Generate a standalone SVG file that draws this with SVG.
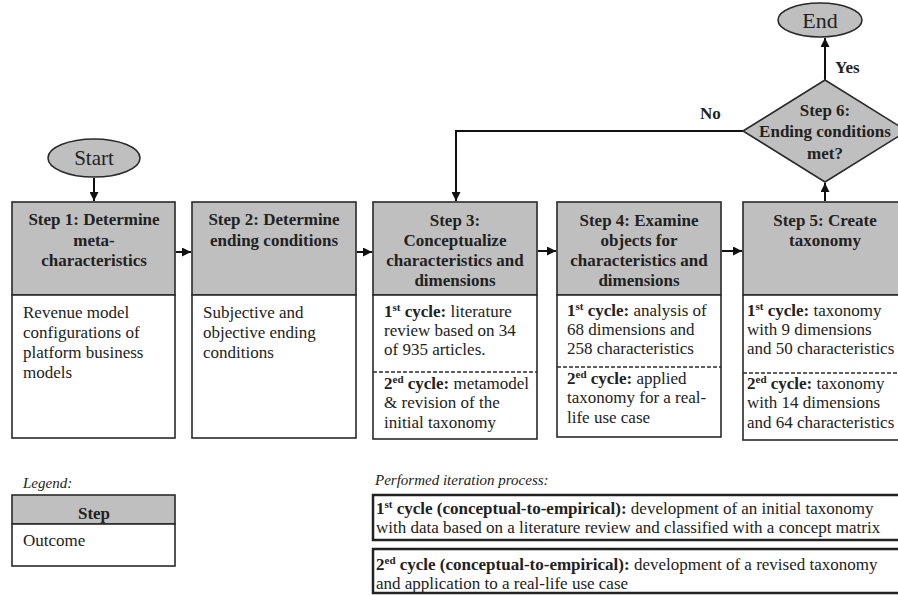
<svg xmlns="http://www.w3.org/2000/svg" width="898" height="595" viewBox="0 0 898 595" font-family="Liberation Serif, Times New Roman, DejaVu Serif, serif">
<defs>
<marker id="ah" viewBox="0 0 10 10" refX="10" refY="5" markerWidth="9" markerHeight="9" markerUnits="userSpaceOnUse" orient="auto">
<path d="M0,0 L10,5 L0,10 z" fill="#111"/>
</marker>
<style>
.hd{fill:#bfbfbf;stroke:#2a2a2a;stroke-width:1.6}
.bd{fill:#fff;stroke:#2a2a2a;stroke-width:1.6}
.dash{stroke:#2a2a2a;stroke-width:1.3;stroke-dasharray:4 2;fill:none}
.t{font-family:'Liberation Serif','Times New Roman','DejaVu Serif',serif;font-size:17px;fill:#222}
.b{font-weight:bold}
.c{text-anchor:middle}
.i{font-style:italic;font-size:15px}
.sup{font-size:11px}
.con{stroke:#111;stroke-width:2;fill:none}
.pb{fill:#fff;stroke:#222;stroke-width:2.5}
</style>
</defs>
<rect width="898" height="595" fill="#fff"/>

<g id="connectors">
<line class="con" x1="94" y1="178" x2="94" y2="201" marker-end="url(#ah)"/>
<line class="con" x1="176" y1="252" x2="191" y2="252" marker-end="url(#ah)"/>
<line class="con" x1="357" y1="252" x2="372" y2="252" marker-end="url(#ah)"/>
<line class="con" x1="538" y1="251" x2="556" y2="251" marker-end="url(#ah)"/>
<line class="con" x1="722" y1="251" x2="742" y2="251" marker-end="url(#ah)"/>
<line class="con" x1="825" y1="201" x2="825" y2="183" marker-end="url(#ah)"/>
<line class="con" x1="825" y1="80" x2="825" y2="38" marker-end="url(#ah)"/>
<path class="con" d="M743,131 H456 V201" marker-end="url(#ah)"/>
<text class="t b" x="700" y="119">No</text>
<text class="t b" x="835" y="73">Yes</text>
</g>

<g id="start">
<ellipse cx="94" cy="158" rx="46" ry="19" fill="#bfbfbf" stroke="#2a2a2a" stroke-width="1.6"/>
<text class="t c" x="94" y="165" style="font-size:21px">Start</text>
</g>

<g id="end">
<ellipse cx="820" cy="20" rx="42" ry="17" fill="#bfbfbf" stroke="#2a2a2a" stroke-width="1.6"/>
<text class="t c" x="820" y="28" style="font-size:22px">End</text>
</g>

<g id="step6">
<polygon points="743,131 825,80 907,131 825,182" fill="#bfbfbf" stroke="#2a2a2a" stroke-width="1.6"/>
<text class="t b c" x="825" y="116">Step 6:</text>
<text class="t b c" x="825" y="137">Ending conditions</text>
<text class="t b c" x="825" y="159">met?</text>
</g>

<g id="step1">
<rect class="hd" x="12" y="202" width="163" height="93"/>
<rect class="bd" x="12" y="295" width="163" height="143"/>
<text class="t b c" x="94" y="225">Step 1: Determine</text>
<text class="t b c" x="94" y="246">meta-</text>
<text class="t b c" x="94" y="266">characteristics</text>
<text class="t" x="23" y="318">Revenue model</text>
<text class="t" x="23" y="338">configurations of</text>
<text class="t" x="23" y="358">platform business</text>
<text class="t" x="23" y="378">models</text>
</g>

<g id="step2">
<rect class="hd" x="192" y="202" width="164" height="93"/>
<rect class="bd" x="192" y="295" width="164" height="143"/>
<text class="t b c" x="274" y="225">Step 2: Determine</text>
<text class="t b c" x="274" y="246">ending conditions</text>
<text class="t" x="203" y="318">Subjective and</text>
<text class="t" x="203" y="338">objective ending</text>
<text class="t" x="203" y="358">conditions</text>
</g>

<g id="step3">
<rect class="hd" x="373" y="202" width="164" height="93"/>
<rect class="bd" x="373" y="295" width="164" height="144"/>
<line class="dash" x1="373" y1="372" x2="537" y2="372"/>
<text class="t b c" x="455" y="226">Step 3:</text>
<text class="t b c" x="455" y="246">Conceptualize</text>
<text class="t b c" x="455" y="266">characteristics and</text>
<text class="t b c" x="455" y="286">dimensions</text>
<text class="t" x="384" y="317"><tspan class="b">1</tspan><tspan class="sup b" dy="-6">st</tspan><tspan class="b" dy="6"> cycle:</tspan> literature</text>
<text class="t" x="384" y="336">review based on 34</text>
<text class="t" x="384" y="355">of 935 articles.</text>
<text class="t" x="384" y="389"><tspan class="b">2</tspan><tspan class="sup b" dy="-6">ed</tspan><tspan class="b" dy="6"> cycle:</tspan> metamodel</text>
<text class="t" x="384" y="408">&amp; revision of the</text>
<text class="t" x="384" y="428">initial taxonomy</text>
</g>

<g id="step4">
<rect class="hd" x="557" y="202" width="164" height="93"/>
<rect class="bd" x="557" y="295" width="164" height="142"/>
<line class="dash" x1="557" y1="367" x2="721" y2="367"/>
<text class="t b c" x="639" y="226">Step 4: Examine</text>
<text class="t b c" x="639" y="246">objects for</text>
<text class="t b c" x="639" y="266">characteristics and</text>
<text class="t b c" x="639" y="286">dimensions</text>
<text class="t" x="567" y="316"><tspan class="b">1</tspan><tspan class="sup b" dy="-6">st</tspan><tspan class="b" dy="6"> cycle:</tspan> analysis of</text>
<text class="t" x="567" y="335">68 dimensions and</text>
<text class="t" x="567" y="354">258 characteristics</text>
<text class="t" x="567" y="384"><tspan class="b">2</tspan><tspan class="sup b" dy="-6">ed</tspan><tspan class="b" dy="6"> cycle:</tspan> applied</text>
<text class="t" x="567" y="403">taxonomy for a real-</text>
<text class="t" x="567" y="423">life use case</text>
</g>

<g id="step5">
<rect class="hd" x="743" y="202" width="163" height="93"/>
<rect class="bd" x="743" y="295" width="163" height="145"/>
<line class="dash" x1="743" y1="373" x2="906" y2="373"/>
<text class="t b c" x="825" y="226">Step 5: Create</text>
<text class="t b c" x="825" y="246">taxonomy</text>
<text class="t" x="747" y="316"><tspan class="b">1</tspan><tspan class="sup b" dy="-6">st</tspan><tspan class="b" dy="6"> cycle:</tspan> taxonomy</text>
<text class="t" x="747" y="335">with 9 dimensions</text>
<text class="t" x="747" y="354">and 50 characteristics</text>
<text class="t" x="747" y="389"><tspan class="b">2</tspan><tspan class="sup b" dy="-6">ed</tspan><tspan class="b" dy="6"> cycle:</tspan> taxonomy</text>
<text class="t" x="747" y="408">with 14 dimensions</text>
<text class="t" x="747" y="428">and 64 characteristics</text>
</g>

<g id="legend">
<text class="t i" x="23" y="488">Legend:</text>
<rect class="hd" x="12" y="495" width="163" height="29"/>
<rect class="bd" x="12" y="524" width="163" height="42"/>
<text class="t b c" x="94" y="519">Step</text>
<text class="t" x="23" y="546">Outcome</text>
</g>

<g id="process">
<text class="t i" x="375" y="485">Performed iteration process:</text>
<rect class="pb" x="373" y="495" width="540" height="45"/>
<text class="t" x="376" y="514"><tspan class="b">1</tspan><tspan class="sup b" dy="-6">st</tspan><tspan class="b" dy="6"> cycle (conceptual-to-empirical):</tspan> development of an initial taxonomy</text>
<text class="t" x="376" y="533">with data based on a literature review and classified with a concept matrix</text>
<rect class="pb" x="373" y="549" width="540" height="44"/>
<text class="t" x="376" y="570"><tspan class="b">2</tspan><tspan class="sup b" dy="-6">ed</tspan><tspan class="b" dy="6"> cycle (conceptual-to-empirical):</tspan> development of  a revised taxonomy</text>
<text class="t" x="376" y="589">and application to a real-life use case</text>
</g>
</svg>
